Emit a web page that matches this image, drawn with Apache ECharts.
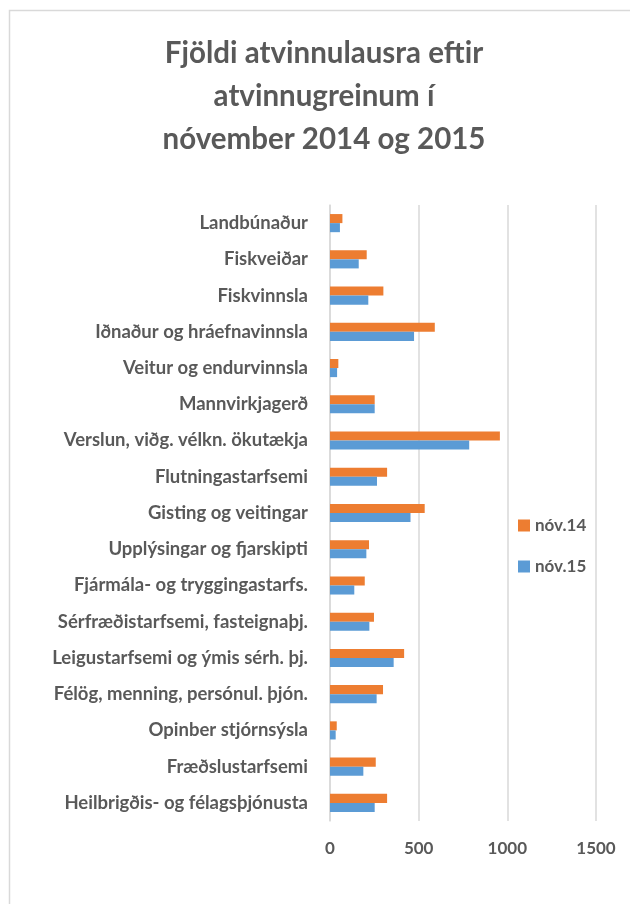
<!DOCTYPE html>
<html><head><meta charset="utf-8">
<script src="https://cdn.jsdelivr.net/npm/echarts@6/dist/echarts.min.js"></script>
<style>html,body{margin:0;padding:0;background:#fff}#c{width:630px;height:904px}</style>
</head><body><div id="c"></div>
<script>
const categories = [
  "Landbúnaður","Fiskveiðar","Fiskvinnsla","Iðnaður og hráefnavinnsla",
  "Veitur og endurvinnsla","Mannvirkjagerð","Verslun, viðg. vélkn. ökutækja",
  "Flutningastarfsemi","Gisting og veitingar","Upplýsingar og fjarskipti",
  "Fjármála- og tryggingastarfs.","Sérfræðistarfsemi, fasteignaþj.",
  "Leigustarfsemi og ýmis sérh. þj.","Félög, menning, persónul. þjón.",
  "Opinber stjórnsýsla","Fræðslustarfsemi","Heilbrigðis- og félagsþjónusta"
];
const nov14 = [70,207,301,591,47,252,958,322,534,220,196,248,418,299,38,258,322];
const nov15 = [56,162,216,474,40,252,785,265,454,205,137,222,359,263,32,188,252];
const seriesNames = ["nóv.14","nóv.15"];
const xTicks = [0,500,1000,1500];

const FONT = "Lato";
const chart = echarts.init(document.getElementById('c'), null, {renderer:'canvas'});
chart.setOption({
  animation:false,
  backgroundColor:'#ffffff',
  graphic:[{type:'rect',shape:{x:9.5,y:10.5,width:700,height:1000},style:{fill:'none',stroke:'#d9d9d9',lineWidth:1.5},silent:true}],
  title:{
    text:"Fjöldi atvinnulausra eftir\natvinnugreinum í\nnóvember 2014 og 2015",
    left:319, top:27, textAlign:'center',
    textStyle:{fontFamily:FONT,fontWeight:'bold',fontSize:29.5,color:'#595959',lineHeight:43}
  },
  legend:{
    orient:'vertical', left:513, top:512, itemWidth:12, itemHeight:12, itemGap:24,
    icon:'rect',
    textStyle:{fontFamily:FONT,fontWeight:'bold',fontSize:17,color:'#595959'},
    data:seriesNames
  },
  grid:{left:330,right:34,top:205,bottom:83,containLabel:false},
  xAxis:{
    type:'value',min:xTicks[0],max:xTicks[xTicks.length-1],interval:500,
    axisLine:{show:false},axisTick:{show:false},
    splitLine:{lineStyle:{color:'#d9d9d9',width:1.5}},
    axisLabel:{margin:19,fontFamily:FONT,fontWeight:'bold',fontSize:17,color:'#595959',formatter:v=>String(v)}
  },
  yAxis:{
    type:'category',data:categories,inverse:true,
    axisLine:{show:true,lineStyle:{color:'#d9d9d9',width:1.5}},
    axisTick:{show:false},
    axisLabel:{margin:22,fontFamily:FONT,fontWeight:'bold',fontSize:18.5,color:'#595959'}
  },
  series:[
    {name:seriesNames[0],type:'bar',data:nov14,barGap:'0%',barCategoryGap:'50%',itemStyle:{color:'#ed7d31'}},
    {name:seriesNames[1],type:'bar',data:nov15,barGap:'0%',barCategoryGap:'50%',itemStyle:{color:'#5b9bd5'}}
  ]
});
</script></body></html>
